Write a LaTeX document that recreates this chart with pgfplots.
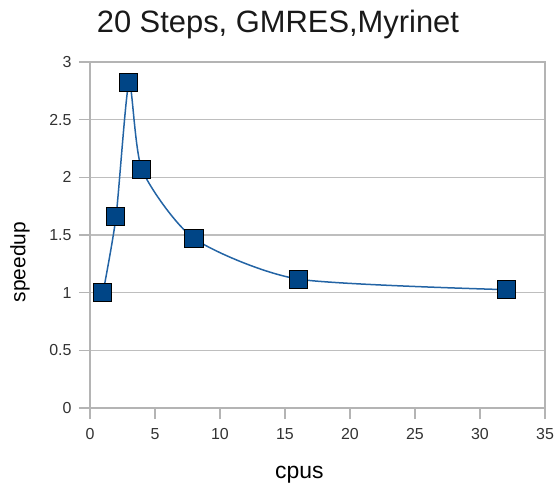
\documentclass[border=0pt]{standalone}
\usepackage{pgfplots}
\pgfplotsset{compat=1.18}
\usepackage{fontspec}
\setmainfont{Liberation Sans}
\definecolor{axgray}{RGB}{180,180,180}
\definecolor{gridgray}{RGB}{190,190,190}
\definecolor{serfill}{HTML}{004586}
\definecolor{serline}{RGB}{35,100,165}
\definecolor{ticktext}{RGB}{50,50,50}
\begin{document}
\begin{tikzpicture}
\begin{axis}[
  at={(0,0)}, anchor=south west,
  scale only axis, width=455bp, height=346bp,
  xmin=0, xmax=35, ymin=0, ymax=3,
  xtick={0,5,...,35}, ytick={0,0.5,...,3},
  yticklabels={0,0.5,1,1.5,2,2.5,3},
  xtick pos=bottom, ytick pos=left,
  tick align=outside, major tick length=11bp,
  every tick/.style={axgray, line width=1.2bp},
  axis line style={axgray, line width=1.5bp},
  ymajorgrids, grid style={gridgray, line width=1.2bp},
  /pgf/number format/assume math mode=true,
  tick label style={font=\fontsize{16}{18}\selectfont, text=ticktext},
  xticklabel style={yshift=-6bp},
  yticklabel style={xshift=-4bp},
  title={20 Steps, GMRES,Myrinet},
  title style={at={(0.413,1)}, anchor=base, yshift=24bp, font=\fontsize{31}{34}\selectfont, text=black!90},
  xlabel={cpus},
  xlabel style={at={(0.46,0)}, anchor=base, yshift=-70bp, font=\fontsize{23}{26}\selectfont},
  ylabel={speedup},
  ylabel style={at={(-0.1538,0.422)}, anchor=center, rotate=0, font=\fontsize{21}{24}\selectfont},
  clip=false,
]
\addplot[serline, line width=1.5bp, smooth, tension=0.4,
  mark=square*, mark size=9bp,
  mark options={fill=serfill, draw=black, line width=1bp, solid}]
  coordinates {(1,1.0) (2,1.658) (3,2.82) (4,2.066) (8,1.47) (16,1.118) (32,1.026)};
\end{axis}
\pgfresetboundingbox
\path[use as bounding box] (-90bp,-77bp) rectangle (466bp,408bp);
\end{tikzpicture}
\end{document}
